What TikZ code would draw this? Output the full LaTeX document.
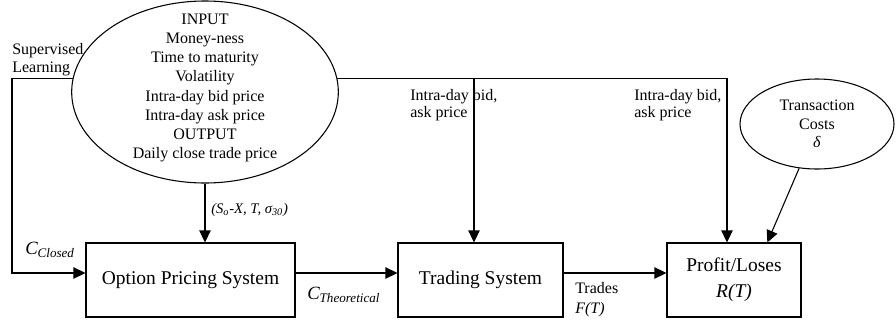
\documentclass[tikz,border=0pt]{standalone}
\usepackage{fontspec}
\setmainfont{Liberation Serif}
\usetikzlibrary{arrows.meta,shapes.geometric}

\tikzset{
  block/.style={draw, line width=0.8pt, minimum height=55.5pt, inner sep=2pt,
    align=center, font=\fontsize{14.6}{16.5}\selectfont},
  oval/.style={draw, ellipse, line width=0.8pt, inner sep=0pt, align=center,
    font=\fontsize{12}{13.9}\selectfont},
  wire/.style={line width=0.8pt},
  arr/.style={line width=0.8pt, -{Triangle[length=9pt,width=8.5pt]}},
  lbl/.style={inner sep=0pt, align=left, font=\fontsize{12}{13.2}\selectfont},
  sym/.style={inner sep=0pt, anchor=west, font=\fontsize{14}{16}\selectfont\itshape},
}

\begin{document}
\begin{tikzpicture}[x=0.75pt, y=-0.75pt]
  \useasboundingbox (0,0) rectangle (896,322);

  % data oval and cost oval
  \node[oval, minimum width=200pt, minimum height=136.5pt] (input) at (205,92) {};
  \node[align=center, inner sep=0pt, font=\fontsize{12}{14.4}\selectfont] (inputtext) at (205,88)
    {INPUT\\Money-ness\\Time to maturity\\Volatility\\Intra-day bid price\\Intra-day ask price\\OUTPUT\\Daily close trade price};
  \node[oval, minimum width=115.5pt, minimum height=67.5pt] (tcost) at (817,124)
    {Transaction\\Costs\\\textit{δ}};

  % the three systems
  \node[block, minimum width=156.75pt] (ops) at (190.5,280) {Option Pricing System};
  \node[block, minimum width=123.75pt] (trade) at (480.5,280) {Trading System};
  \node[block, minimum width=100.5pt] (profit) at (734,280) {Profit/Loses\\[3pt]\textit{R(T)}};

  \coordinate (learn) at (12,79);
  \coordinate (tap) at (474,79);
  \coordinate (bus) at (727,79);

  % connectors
  \draw[arr] (input.174) -- (input.174 -| learn) |- ([yshift=5.25pt]ops.west);
  \draw[arr] (input.south) -- (input.south |- ops.north);
  \draw[wire] (input.6) -- (input.6 -| bus);
  \draw[arr] (input.6 -| tap) -- (tap |- trade.north);
  \draw[arr] (input.6 -| bus) -- (bus |- profit.north);
  \draw[arr] ([yshift=5.25pt]ops.east) -- ([yshift=5.25pt]trade.west);
  \draw[arr] ([yshift=5.25pt]trade.east) -- ([yshift=5.25pt]profit.west);
  \draw[arr] (tcost.-112) -- ([xshift=25pt]profit.north);

  % labels
  \node[lbl, anchor=south west] (superv) at (12,76) {Supervised\\Learning};
  \node[lbl, anchor=north west] (bidask1) at (410,89) {Intra-day bid,\\ask price};
  \node[lbl, anchor=north west] (bidask2) at (634,89) {Intra-day bid,\\ask price};
  \node[sym, font=\fontsize{11}{13}\selectfont\itshape] (vars) at (211,210)
    {(S\textsubscript{o}-X, T, σ\textsubscript{30})};
  \node[sym] (cclosed) at (25,250) {C\textsubscript{Closed}};
  \node[sym] (ctheo) at (307,295) {C\textsubscript{Theoretical}};
  \node[lbl, anchor=north west, font=\fontsize{12}{15}\selectfont] (trades) at (575,282)
    {Trades\\\textit{F(T)}};
\end{tikzpicture}
\end{document}
